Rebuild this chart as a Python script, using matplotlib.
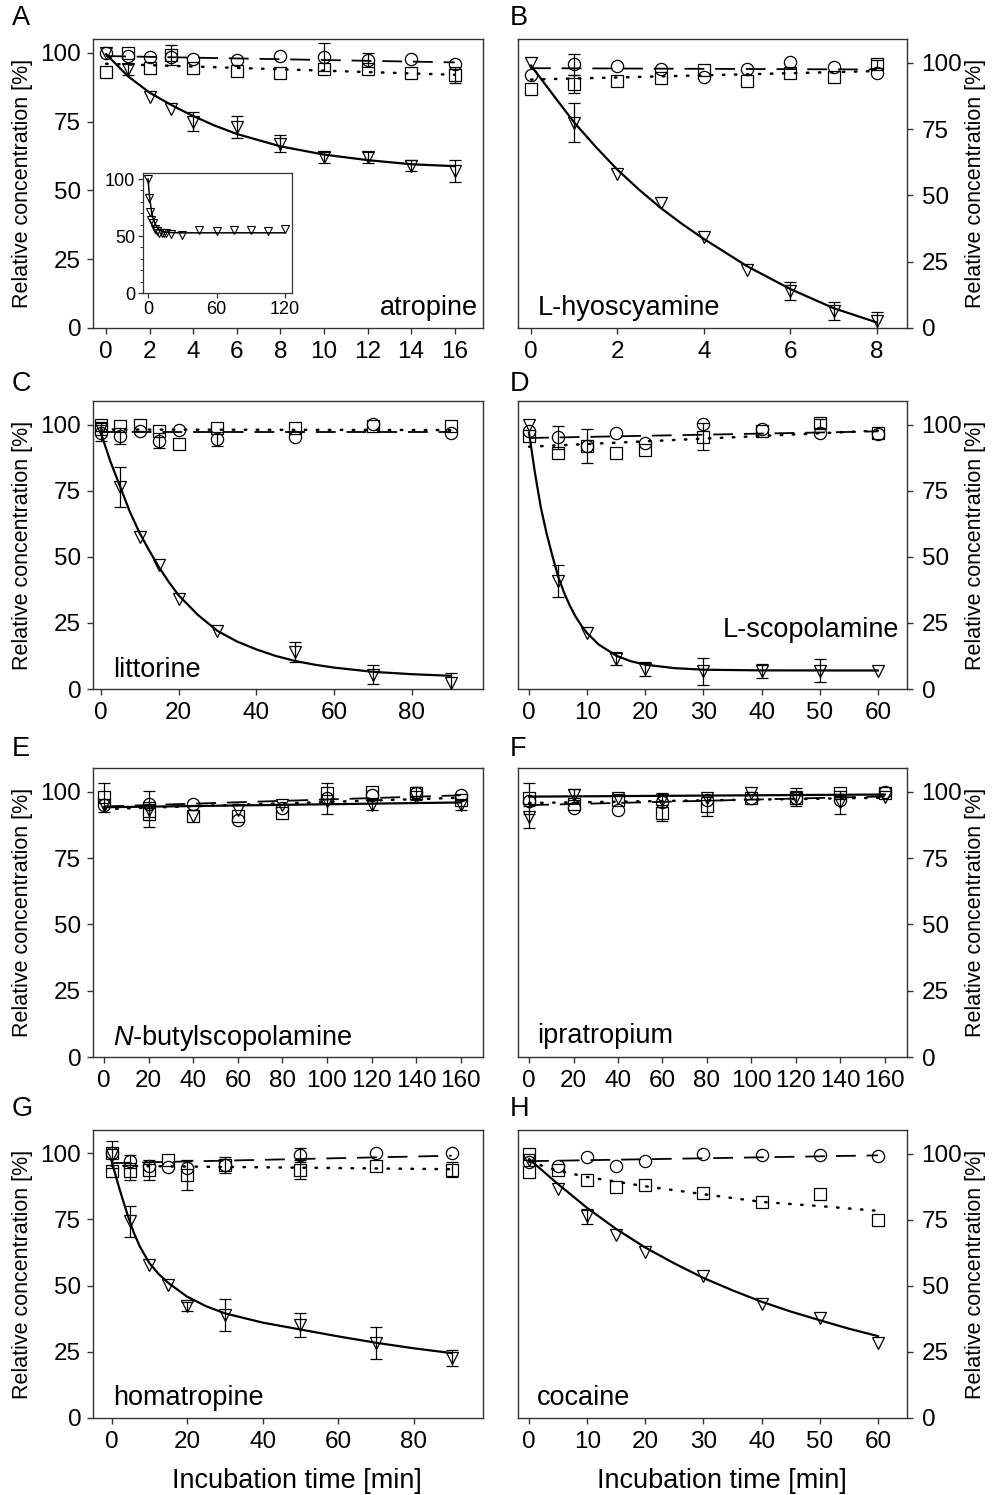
import numpy as np
import matplotlib
matplotlib.use('Agg')
import matplotlib.pyplot as plt

plt.rcParams['font.family'] = ['Liberation Sans', 'DejaVu Sans']
plt.rcParams['mathtext.fontset'] = 'custom'
plt.rcParams['mathtext.rm'] = 'Liberation Sans'
plt.rcParams['mathtext.it'] = 'Liberation Sans:italic'

# ---------------- data ----------------
# A atropine
tA = [0, 1, 2, 3, 4, 6, 8, 10, 12, 14, 16]
A_tri = [100, 94, 84, 79.5, 75, 73, 67, 62, 62, 59, 57]
A_tri_err = [0, 2, 0, 0, 3.5, 4, 3, 2, 2, 2, 4]
A_circ = [100, 99, 98.5, 98.5, 97.8, 97.5, 99, 98.5, 97.5, 97.8, 96]
A_circ_err = [0, 0, 0, 0, 0, 0, 0, 5, 2.5, 0, 0]
A_sq = [93, 100, 94.5, 99.3, 94.5, 93.5, 92.5, 94, 94, 92.5, 92]
A_sq_err = [0, 0, 0, 3.7, 0, 0, 0, 0, 0, 0, 3]
A_fit_t = [0, 1, 2, 3, 4, 5, 6, 8, 10, 12, 14, 16]
A_fit = [99.5, 91.5, 85.5, 81, 77, 73.5, 70.5, 66, 63, 61, 59.5, 58.8]
A_dash_t, A_dash = [0, 16], [98.8, 96.5]
A_dot_t, A_dot = [0, 16], [96, 92]
# inset of A (long incubation)
tAi = [0, 1, 2, 3, 4, 6, 8, 10, 12, 14, 16, 20, 30, 45, 60, 75, 90, 105, 120]
Ai_tri = [100, 83, 71, 64, 61, 56, 54, 53, 52.5, 52.5, 53, 51.5, 51, 55.5, 54.5, 55.5, 55, 54.5, 56]
Ai_fit_t = [0, 1, 2, 3, 4, 6, 8, 10, 12, 15, 20, 30, 60, 120]
Ai_fit = [100, 88, 79, 72, 67, 61, 57.5, 55.5, 54.3, 53.5, 53, 52.8, 52.8, 52.8]

# B L-hyoscyamine
tB = [0, 1, 2, 3, 4, 5, 6, 7, 8]
B_tri = [100, 77.5, 58, 47, 34.5, 22, 14, 6.5, 2.5]
B_tri_err = [0, 7.5, 0, 0, 0, 0, 3.5, 3.3, 3.5]
B_circ = [95.5, 99.5, 98.7, 97.5, 94.7, 97.5, 100.4, 98.4, 96.2]
B_circ_err = [0, 4, 0, 0, 0, 0, 0, 0, 0]
B_sq = [90, 92, 93, 94.3, 97.2, 93, 96, 94.7, 99.7]
B_sq_err = [0, 3.5, 0, 0, 0, 0, 0, 0, 1.5]
B_fit_t = [0, 0.5, 1, 1.5, 2, 2.5, 3, 3.5, 4, 5, 6, 7, 8]
B_fit = [99, 88.2, 77.5, 68.3, 59.7, 52.2, 45.3, 39.2, 33.6, 23.3, 14.7, 7.5, 2.1]
B_dash_t, B_dash = [0, 8], [98, 97.5]
B_dot_t, B_dot = [0, 8], [93.7, 96.9]

# C littorine
tC = [0, 5, 10, 15, 20, 30, 50, 70, 90]
C_tri = [98.5, 76.5, 57.5, 47, 34.2, 21.8, 14, 5.4, 2.3]
C_tri_err = [2.5, 7.5, 0, 0, 0, 0, 3.7, 3.5, 3.7]
C_circ = [97, 95.8, 97.7, 94, 98.1, 94.6, 95.3, 100.4, 96.8]
C_circ_err = [3, 3, 0, 2.8, 0, 2.8, 0, 0, 0]
C_sq = [100, 99.4, 100, 97.7, 92.8, 98.7, 98.7, 99.4, 99.4]
C_sq_err = [0, 0, 0, 0, 0, 0, 0, 0, 0]
C_fit_t = [0, 2.5, 5, 7.5, 10, 12.5, 15, 17.5, 20, 25, 30, 35, 40, 45, 50, 55, 60, 70, 80, 90]
C_fit = [97, 86, 76.5, 67, 59, 52.3, 46, 40.5, 35.5, 28, 22, 18, 15, 12.5, 10.6, 9.2, 8.1, 6.5, 5.6, 5]
C_dash_t, C_dash = [0, 90], [97.1, 97.1]
C_dot_t, C_dot = [0, 90], [98.2, 98.0]

# D L-scopolamine
tD = [0, 5, 10, 15, 20, 30, 40, 50, 60]
D_tri = [100, 41, 21.2, 11.5, 7.6, 6.7, 6.7, 7, 6.7]
D_tri_err = [0, 6, 0, 2.5, 2.8, 5, 2.7, 4.2, 0]
D_circ = [97.5, 95.3, 92, 96.7, 93, 100.4, 98.5, 96.8, 96.6]
D_circ_err = [0, 4.4, 0, 0, 0, 0, 0, 0, 0]
D_sq = [95.6, 89.5, 92, 89.5, 90.4, 95.5, 97.5, 100.5, 96.8]
D_sq_err = [0, 0, 6.3, 0, 0, 5, 0, 1.8, 0]
D_fit_t = [0, 1, 2, 3, 4, 5, 6, 7, 8, 9, 10, 12, 15, 17.5, 20, 25, 30, 40, 60]
D_fit = [97, 82, 69, 59, 50.5, 42.6, 36.6, 31.6, 27.4, 24, 21.1, 16.8, 12.6, 10.5, 9.2, 7.9, 7.3, 7.05, 7]
D_dash_t, D_dash = [0, 60], [95, 97.5]
D_dot_t, D_dot = [0, 60], [91.7, 97.8]

# E N-butylscopolamine
tE = [0, 20, 40, 60, 80, 100, 120, 140, 160]
E_tri = [95, 93, 91, 93, 95, 96.5, 95, 98, 95]
E_tri_err = [0, 0, 0, 0, 0, 0, 2, 0, 2]
E_circ = [95, 95.5, 95.6, 89.5, 94, 97.5, 99, 99.5, 99]
E_circ_err = [0, 5, 0, 0, 0, 6, 0, 0, 0]
E_sq = [98, 91.5, 91, 91, 92, 99.5, 99.8, 99.5, 97]
E_sq_err = [5.5, 4.7, 0, 0, 0, 0, 0, 2.5, 0]
E_fit_t, E_fit = [0, 160], [94.2, 96]
E_dash_t, E_dash = [0, 160], [94.5, 98.7]
E_dot_t, E_dot = [0, 160], [93.5, 97.8]

# F ipratropium
tF = [0, 20, 40, 60, 80, 100, 120, 140, 160]
F_tri = [90.5, 99, 97.8, 97, 97.5, 99.6, 98, 96, 98]
F_tri_err = [4.3, 2, 0, 2.7, 0, 0, 3.5, 4.4, 0]
F_circ = [96.5, 94, 93, 96, 97, 97.5, 97.8, 97, 100]
F_circ_err = [0, 0, 0, 0, 0, 0, 0, 0, 0]
F_sq = [97.5, 95.5, 97, 92, 94.5, 97.5, 97.5, 99.5, 99.5]
F_sq_err = [6, 0, 0, 3, 3.7, 0, 0, 0, 0]
F_fit_t, F_fit = [0, 160], [98.2, 99]
F_dash_t, F_dash = [0, 160], [95, 98.3]
F_dot_t, F_dot = [0, 160], [95.8, 97.8]

# G homatropine
tG = [0, 5, 10, 15, 20, 30, 50, 70, 90]
G_tri = [99.4, 74.2, 57.9, 50.3, 42.1, 39, 35.2, 28.3, 22.6]
G_tri_err = [5, 6, 0, 0, 1.8, 6, 4.5, 6, 3]
G_circ = [100, 96.9, 95.2, 94.7, 94.3, 95.6, 99.4, 100, 100]
G_circ_err = [0, 2.5, 0, 0, 0, 0, 2.6, 0, 0]
G_sq_t = [0, 0, 5, 10, 15, 20, 30, 50, 70, 90]
G_sq = [100, 93.3, 93.1, 93.7, 97.5, 91.8, 95.6, 93.7, 95.2, 93.7]
G_sq_err = [0, 0, 3.2, 3.8, 0, 5.6, 3, 3.5, 0, 2.8]
G_fit_t = [0, 1, 2, 3, 4, 5, 6, 7.5, 10, 12.5, 15, 20, 25, 30, 40, 50, 60, 70, 80, 90]
G_fit = [97, 92, 87, 82.3, 77.8, 73.5, 69.6, 64.7, 58.5, 54.3, 51, 45.8, 42.2, 39.5, 36, 33.4, 30.8, 28.4, 26.3, 24.5]
G_dash_t, G_dash = [0, 90], [96.2, 99]
G_dot_t, G_dot = [0, 90], [95.2, 93.9]

# H cocaine
tH = [0, 5, 10, 15, 20, 30, 40, 50, 60]
H_tri = [97.5, 86.8, 76.4, 69.3, 63, 53.8, 43.3, 37.9, 28.5]
H_tri_err = [0, 0, 2.8, 0, 0, 0, 0, 0, 0]
H_circ = [96.9, 95.2, 98.7, 95.2, 97.1, 100, 99.7, 99.4, 99.1]
H_circ_err = [0, 0, 0, 0, 0, 0, 0, 0, 0]
H_sq_t = [0, 0, 5, 10, 15, 20, 30, 40, 50, 60]
H_sq = [100, 93.1, 93.7, 90, 87.5, 88.1, 85.3, 81.8, 84.9, 74.9]
H_sq_err = [0, 0, 0, 0, 0, 0, 0, 0, 0, 0]
H_fit_t = [0, 5, 10, 15, 20, 25, 30, 35, 40, 45, 50, 55, 60]
H_fit = [98, 88.5, 79.5, 71.5, 64.5, 58.5, 53, 48.3, 44, 40.3, 37, 33.8, 31]
H_dash_t, H_dash = [0, 60], [97.2, 99.4]
H_dot_t = [0, 5, 10, 20, 30, 40, 50, 60]
H_dot = [97, 93.6, 91.2, 87.7, 84.7, 81.8, 80.2, 78.4]

letters = ['A', 'B', 'C', 'D', 'E', 'F', 'G', 'H']
names = ['atropine', 'L-hyoscyamine', 'littorine', 'L-scopolamine',
         r'$\mathit{N}$-butylscopolamine', 'ipratropium', 'homatropine', 'cocaine']


def series(ax, t, y, err, marker, ms):
    t = np.asarray(t, float)
    y = np.asarray(y, float)
    err = np.asarray(err, float)
    m = err > 0
    if m.any():
        ax.errorbar(t[m], y[m], yerr=err[m], fmt='none', ecolor='k',
                    elinewidth=0.9, capsize=4, capthick=0.9, zorder=2)
    ax.plot(t, y, ls='none', marker=marker, ms=ms, mfc='none', mec='k',
            mew=0.9, zorder=3)


def lines(ax, fit_t, fit, dash_t, dash, dot_t, dot):
    ax.plot(fit_t, fit, color='k', lw=1.6, zorder=4)
    ax.plot(dash_t, dash, color='k', lw=1.3, dashes=(11, 6), zorder=4)
    ax.plot(dot_t, dot, color='k', lw=1.8, dashes=(0.6, 4.2),
            dash_capstyle='round', zorder=4)


fig = plt.figure(figsize=(9.98, 14.95), dpi=100)

col_left = [93 / 998, 518 / 998]
col_w = [390 / 998, 389 / 998]
row_bot = [1 - 328 / 1495, 1 - 689 / 1495, 1 - 1057 / 1495, 1 - 1418 / 1495]
row_h = [289 / 1495, 288 / 1495, 289 / 1495, 288 / 1495]

panels = [
    (tA, A_tri, A_tri_err, tA, A_circ, A_circ_err, tA, A_sq, A_sq_err,
     A_fit_t, A_fit, A_dash_t, A_dash, A_dot_t, A_dot,
     (-0.6, 17.3), (0, 105), np.arange(0, 17, 2)),
    (tB, B_tri, B_tri_err, tB, B_circ, B_circ_err, tB, B_sq, B_sq_err,
     B_fit_t, B_fit, B_dash_t, B_dash, B_dot_t, B_dot,
     (-0.3, 8.7), (0, 109), np.arange(0, 9, 2)),
    (tC, C_tri, C_tri_err, tC, C_circ, C_circ_err, tC, C_sq, C_sq_err,
     C_fit_t, C_fit, C_dash_t, C_dash, C_dot_t, C_dot,
     (-2, 98.3), (0, 109), np.arange(0, 81, 20)),
    (tD, D_tri, D_tri_err, tD, D_circ, D_circ_err, tD, D_sq, D_sq_err,
     D_fit_t, D_fit, D_dash_t, D_dash, D_dot_t, D_dot,
     (-1.9, 65), (0, 109), np.arange(0, 61, 10)),
    (tE, E_tri, E_tri_err, tE, E_circ, E_circ_err, tE, E_sq, E_sq_err,
     E_fit_t, E_fit, E_dash_t, E_dash, E_dot_t, E_dot,
     (-5, 170), (0, 109), np.arange(0, 161, 20)),
    (tF, F_tri, F_tri_err, tF, F_circ, F_circ_err, tF, F_sq, F_sq_err,
     F_fit_t, F_fit, F_dash_t, F_dash, F_dot_t, F_dot,
     (-5, 170), (0, 109), np.arange(0, 161, 20)),
    (tG, G_tri, G_tri_err, tG, G_circ, G_circ_err, G_sq_t, G_sq, G_sq_err,
     G_fit_t, G_fit, G_dash_t, G_dash, G_dot_t, G_dot,
     (-4.9, 98.3), (0, 108.7), np.arange(0, 81, 20)),
    (tH, H_tri, H_tri_err, tH, H_circ, H_circ_err, H_sq_t, H_sq, H_sq_err,
     H_fit_t, H_fit, H_dash_t, H_dash, H_dot_t, H_dot,
     (-1.9, 65), (0, 109), np.arange(0, 61, 10)),
]

# name label positions (axes coords) and alignment
name_pos = [(0.987, 0.045, 'right'), (0.051, 0.045, 'left'),
            (0.051, 0.042, 'left'), (0.979, 0.18, 'right'),
            (0.051, 0.042, 'left'), (0.049, 0.048, 'left'),
            (0.051, 0.045, 'left'), (0.049, 0.045, 'left')]
letter_y = [18, 18, 384, 384, 749, 749, 1109, 1109]

spine_col = '#333333'

for i, p in enumerate(panels):
    (t1, y1, e1, t2, y2, e2, t3, y3, e3,
     ft, fy, dt, dy, ot, oy, xl, yl, xt) = p
    r, c = divmod(i, 2)
    ax = fig.add_axes([col_left[c], row_bot[r], col_w[c], row_h[r]])
    series(ax, t2, y2, e2, 'o', 8.8)
    series(ax, t3, y3, e3, 's', 8)
    series(ax, t1, y1, e1, 'v', 9.2)
    lines(ax, ft, fy, dt, dy, ot, oy)
    ax.set_xlim(*xl)
    ax.set_ylim(*yl)
    ax.set_xticks(xt)
    ax.set_yticks([0, 25, 50, 75, 100])
    for s in ax.spines.values():
        s.set_color(spine_col)
        s.set_linewidth(1.0)
    ax.tick_params(axis='both', labelsize=17.5, length=4.5, width=1.0,
                   color=spine_col, direction='out')
    ax.tick_params(axis='x', pad=5)
    if c == 1:
        ax.yaxis.tick_right()
        ax.yaxis.set_label_position('right')
        ax.tick_params(axis='y', pad=6)
        ax.set_ylabel('Relative concentration [%]', fontsize=15.5)
        ax.yaxis.set_label_coords(1.149, 0.5)
    else:
        ax.tick_params(axis='y', pad=4)
        ax.set_ylabel('Relative concentration [%]', fontsize=15.5)
        ax.yaxis.set_label_coords(-0.154, 0.5)
    nx, ny, ha = name_pos[i]
    ax.text(nx, ny, names[i], transform=ax.transAxes, ha=ha, va='baseline',
            fontsize=19.5)
    if r == 3:
        ax.set_xlabel('Incubation time [min]', fontsize=19.5)
        ax.xaxis.set_label_coords(0.523, -0.175)
    lx = 12 / 998 if c == 0 else 510 / 998
    fig.text(lx, 1 - letter_y[i] / 1495, letters[i], fontsize=19.5,
             ha='left', va='center')

# inset in panel A
axi = fig.add_axes([143 / 998, 1 - 293 / 1495, 149 / 998, 120 / 1495])
axi.plot(tAi, Ai_tri, ls='none', marker='v', ms=5.5, mfc='none', mec='k',
         mew=0.8, zorder=3)
axi.plot(Ai_fit_t, Ai_fit, color='k', lw=1.1, zorder=4)
axi.set_xlim(-4.4, 126)
axi.set_ylim(0, 105.3)
axi.set_xticks([0, 60, 120])
axi.set_yticks([0, 50, 100])
axi.set_yticks(np.arange(10, 100, 10), minor=True)
for s in axi.spines.values():
    s.set_color(spine_col)
    s.set_linewidth(0.9)
axi.tick_params(axis='both', labelsize=13, length=3.5, width=0.9,
                color=spine_col, pad=2)
axi.tick_params(axis='y', which='minor', length=2, width=0.7,
                color=spine_col)

fig.savefig('out.png', dpi=100)
